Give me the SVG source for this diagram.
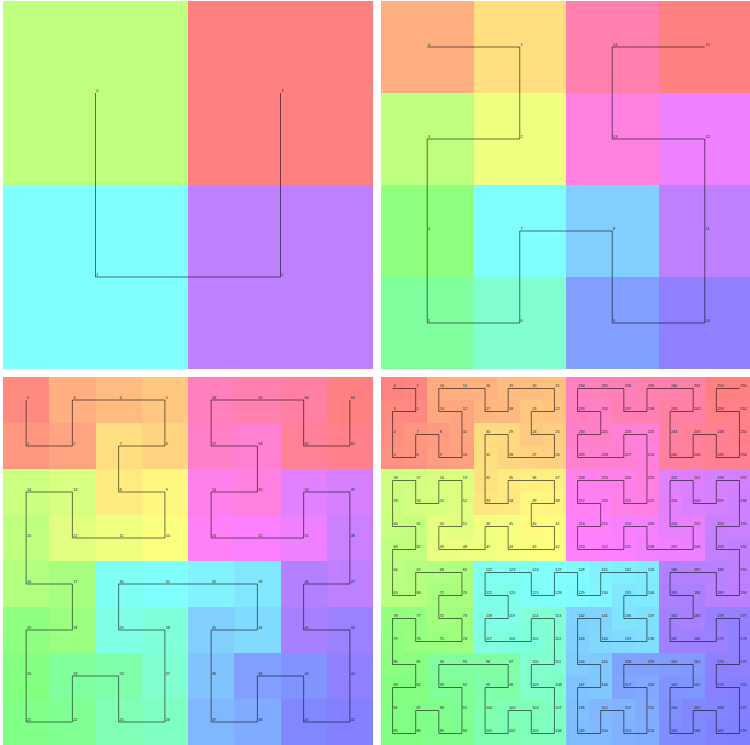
<svg xmlns="http://www.w3.org/2000/svg" width="750" height="745" viewBox="0 0 750 745">
<style>
.cells rect{fill:hsl(calc(var(--k) * var(--s)),100%,75%)}
.curve{fill:none;stroke:#000;stroke-opacity:.55;stroke-width:1}
.lbl text{font-family:"Liberation Sans",Arial,sans-serif;font-size:3.8px;fill:#222}
</style>
<rect width="750" height="745" fill="#fff"/>

<g id="order1">
<g class="cells" style="--s:90" transform="translate(3,1) scale(185,184)" shape-rendering="crispEdges">
<rect x="0" y="0" width="1" height="1" style="--k:1"/>
<rect x="0" y="1" width="1" height="1" style="--k:2"/>
<rect x="1" y="1" width="1" height="1" style="--k:3"/>
<rect x="1" y="0" width="1" height="1" style="--k:4"/>
</g>
<g id="order1-connectors"><polyline class="curve" vector-effect="non-scaling-stroke" transform="translate(95.5,93) scale(185,184)" points="0,0 0,1 1,1 1,0"/></g>
<g class="lbl" transform="translate(96.3,91.5)">
<text x="0" y="0">0</text><text x="0" y="184">1</text><text x="185" y="184">2</text><text x="185" y="0">3</text>
</g>
</g>

<g id="order2">
<g class="cells" style="--s:22.5" transform="translate(381,1) scale(92.5,92)" shape-rendering="crispEdges">
<rect x="0" y="0" width="1" height="1" style="--k:1"/>
<rect x="1" y="0" width="1" height="1" style="--k:2"/>
<rect x="1" y="1" width="1" height="1" style="--k:3"/>
<rect x="0" y="1" width="1" height="1" style="--k:4"/>
<rect x="0" y="2" width="1" height="1" style="--k:5"/>
<rect x="0" y="3" width="1" height="1" style="--k:6"/>
<rect x="1" y="3" width="1" height="1" style="--k:7"/>
<rect x="1" y="2" width="1" height="1" style="--k:8"/>
<rect x="2" y="2" width="1" height="1" style="--k:9"/>
<rect x="2" y="3" width="1" height="1" style="--k:10"/>
<rect x="3" y="3" width="1" height="1" style="--k:11"/>
<rect x="3" y="2" width="1" height="1" style="--k:12"/>
<rect x="3" y="1" width="1" height="1" style="--k:13"/>
<rect x="2" y="1" width="1" height="1" style="--k:14"/>
<rect x="2" y="0" width="1" height="1" style="--k:15"/>
<rect x="3" y="0" width="1" height="1" style="--k:16"/>
</g>
<g id="order2-connectors"><polyline class="curve" vector-effect="non-scaling-stroke" transform="translate(427.25,47) scale(92.5,92)" points="0,0 1,0 1,1 0,1 0,2 0,3 1,3 1,2 2,2 2,3 3,3 3,2 3,1 2,1 2,0 3,0"/></g>
<g class="lbl" transform="translate(428.05,45.5)">
<text x="0" y="0">0</text><text x="92.5" y="0">1</text><text x="92.5" y="92">2</text><text x="0" y="92">3</text>
<text x="0" y="184">4</text><text x="0" y="276">5</text><text x="92.5" y="276">6</text><text x="92.5" y="184">7</text>
<text x="185" y="184">8</text><text x="185" y="276">9</text><text x="277.5" y="276">10</text><text x="277.5" y="184">11</text>
<text x="277.5" y="92">12</text><text x="185" y="92">13</text><text x="185" y="0">14</text><text x="277.5" y="0">15</text>
</g>
</g>

<g id="order3">
<g class="cells" style="--s:5.625" transform="translate(3,377) scale(46.25,46)" shape-rendering="crispEdges">
<rect x="0" y="0" width="1" height="1" style="--k:1"/>
<rect x="0" y="1" width="1" height="1" style="--k:2"/>
<rect x="1" y="1" width="1" height="1" style="--k:3"/>
<rect x="1" y="0" width="1" height="1" style="--k:4"/>
<rect x="2" y="0" width="1" height="1" style="--k:5"/>
<rect x="3" y="0" width="1" height="1" style="--k:6"/>
<rect x="3" y="1" width="1" height="1" style="--k:7"/>
<rect x="2" y="1" width="1" height="1" style="--k:8"/>
<rect x="2" y="2" width="1" height="1" style="--k:9"/>
<rect x="3" y="2" width="1" height="1" style="--k:10"/>
<rect x="3" y="3" width="1" height="1" style="--k:11"/>
<rect x="2" y="3" width="1" height="1" style="--k:12"/>
<rect x="1" y="3" width="1" height="1" style="--k:13"/>
<rect x="1" y="2" width="1" height="1" style="--k:14"/>
<rect x="0" y="2" width="1" height="1" style="--k:15"/>
<rect x="0" y="3" width="1" height="1" style="--k:16"/>
<rect x="0" y="4" width="1" height="1" style="--k:17"/>
<rect x="1" y="4" width="1" height="1" style="--k:18"/>
<rect x="1" y="5" width="1" height="1" style="--k:19"/>
<rect x="0" y="5" width="1" height="1" style="--k:20"/>
<rect x="0" y="6" width="1" height="1" style="--k:21"/>
<rect x="0" y="7" width="1" height="1" style="--k:22"/>
<rect x="1" y="7" width="1" height="1" style="--k:23"/>
<rect x="1" y="6" width="1" height="1" style="--k:24"/>
<rect x="2" y="6" width="1" height="1" style="--k:25"/>
<rect x="2" y="7" width="1" height="1" style="--k:26"/>
<rect x="3" y="7" width="1" height="1" style="--k:27"/>
<rect x="3" y="6" width="1" height="1" style="--k:28"/>
<rect x="3" y="5" width="1" height="1" style="--k:29"/>
<rect x="2" y="5" width="1" height="1" style="--k:30"/>
<rect x="2" y="4" width="1" height="1" style="--k:31"/>
<rect x="3" y="4" width="1" height="1" style="--k:32"/>
<rect x="4" y="4" width="1" height="1" style="--k:33"/>
<rect x="5" y="4" width="1" height="1" style="--k:34"/>
<rect x="5" y="5" width="1" height="1" style="--k:35"/>
<rect x="4" y="5" width="1" height="1" style="--k:36"/>
<rect x="4" y="6" width="1" height="1" style="--k:37"/>
<rect x="4" y="7" width="1" height="1" style="--k:38"/>
<rect x="5" y="7" width="1" height="1" style="--k:39"/>
<rect x="5" y="6" width="1" height="1" style="--k:40"/>
<rect x="6" y="6" width="1" height="1" style="--k:41"/>
<rect x="6" y="7" width="1" height="1" style="--k:42"/>
<rect x="7" y="7" width="1" height="1" style="--k:43"/>
<rect x="7" y="6" width="1" height="1" style="--k:44"/>
<rect x="7" y="5" width="1" height="1" style="--k:45"/>
<rect x="6" y="5" width="1" height="1" style="--k:46"/>
<rect x="6" y="4" width="1" height="1" style="--k:47"/>
<rect x="7" y="4" width="1" height="1" style="--k:48"/>
<rect x="7" y="3" width="1" height="1" style="--k:49"/>
<rect x="7" y="2" width="1" height="1" style="--k:50"/>
<rect x="6" y="2" width="1" height="1" style="--k:51"/>
<rect x="6" y="3" width="1" height="1" style="--k:52"/>
<rect x="5" y="3" width="1" height="1" style="--k:53"/>
<rect x="4" y="3" width="1" height="1" style="--k:54"/>
<rect x="4" y="2" width="1" height="1" style="--k:55"/>
<rect x="5" y="2" width="1" height="1" style="--k:56"/>
<rect x="5" y="1" width="1" height="1" style="--k:57"/>
<rect x="4" y="1" width="1" height="1" style="--k:58"/>
<rect x="4" y="0" width="1" height="1" style="--k:59"/>
<rect x="5" y="0" width="1" height="1" style="--k:60"/>
<rect x="6" y="0" width="1" height="1" style="--k:61"/>
<rect x="6" y="1" width="1" height="1" style="--k:62"/>
<rect x="7" y="1" width="1" height="1" style="--k:63"/>
<rect x="7" y="0" width="1" height="1" style="--k:64"/>
</g>
<g id="order3-connectors"><polyline class="curve" vector-effect="non-scaling-stroke" transform="translate(26.125,400) scale(46.25,46)" points="0,0 0,1 1,1 1,0 2,0 3,0 3,1 2,1 2,2 3,2 3,3 2,3 1,3 1,2 0,2 0,3 0,4 1,4 1,5 0,5 0,6 0,7 1,7 1,6 2,6 2,7 3,7 3,6 3,5 2,5 2,4 3,4 4,4 5,4 5,5 4,5 4,6 4,7 5,7 5,6 6,6 6,7 7,7 7,6 7,5 6,5 6,4 7,4 7,3 7,2 6,2 6,3 5,3 4,3 4,2 5,2 5,1 4,1 4,0 5,0 6,0 6,1 7,1 7,0"/></g>
<g class="lbl" transform="translate(26.9,398.5)">
<text x="0" y="0">0</text><text x="0" y="46">1</text><text x="46.3" y="46">2</text><text x="46.3" y="0">3</text>
<text x="92.5" y="0">4</text><text x="138.8" y="0">5</text><text x="138.8" y="46">6</text><text x="92.5" y="46">7</text>
<text x="92.5" y="92">8</text><text x="138.8" y="92">9</text><text x="138.8" y="138">10</text><text x="92.5" y="138">11</text>
<text x="46.3" y="138">12</text><text x="46.3" y="92">13</text><text x="0" y="92">14</text><text x="0" y="138">15</text>
<text x="0" y="184">16</text><text x="46.3" y="184">17</text><text x="46.3" y="230">18</text><text x="0" y="230">19</text>
<text x="0" y="276">20</text><text x="0" y="322">21</text><text x="46.3" y="322">22</text><text x="46.3" y="276">23</text>
<text x="92.5" y="276">24</text><text x="92.5" y="322">25</text><text x="138.8" y="322">26</text><text x="138.8" y="276">27</text>
<text x="138.8" y="230">28</text><text x="92.5" y="230">29</text><text x="92.5" y="184">30</text><text x="138.8" y="184">31</text>
<text x="185" y="184">32</text><text x="231.3" y="184">33</text><text x="231.3" y="230">34</text><text x="185" y="230">35</text>
<text x="185" y="276">36</text><text x="185" y="322">37</text><text x="231.3" y="322">38</text><text x="231.3" y="276">39</text>
<text x="277.5" y="276">40</text><text x="277.5" y="322">41</text><text x="323.8" y="322">42</text><text x="323.8" y="276">43</text>
<text x="323.8" y="230">44</text><text x="277.5" y="230">45</text><text x="277.5" y="184">46</text><text x="323.8" y="184">47</text>
<text x="323.8" y="138">48</text><text x="323.8" y="92">49</text><text x="277.5" y="92">50</text><text x="277.5" y="138">51</text>
<text x="231.3" y="138">52</text><text x="185" y="138">53</text><text x="185" y="92">54</text><text x="231.3" y="92">55</text>
<text x="231.3" y="46">56</text><text x="185" y="46">57</text><text x="185" y="0">58</text><text x="231.3" y="0">59</text>
<text x="277.5" y="0">60</text><text x="277.5" y="46">61</text><text x="323.8" y="46">62</text><text x="323.8" y="0">63</text>
</g>
</g>

<g id="order4">
<g class="cells" style="--s:1.40625" transform="translate(381,377) scale(23.125,23)" shape-rendering="crispEdges">
<rect x="0" y="0" width="1" height="1" style="--k:1"/>
<rect x="1" y="0" width="1" height="1" style="--k:2"/>
<rect x="1" y="1" width="1" height="1" style="--k:3"/>
<rect x="0" y="1" width="1" height="1" style="--k:4"/>
<rect x="0" y="2" width="1" height="1" style="--k:5"/>
<rect x="0" y="3" width="1" height="1" style="--k:6"/>
<rect x="1" y="3" width="1" height="1" style="--k:7"/>
<rect x="1" y="2" width="1" height="1" style="--k:8"/>
<rect x="2" y="2" width="1" height="1" style="--k:9"/>
<rect x="2" y="3" width="1" height="1" style="--k:10"/>
<rect x="3" y="3" width="1" height="1" style="--k:11"/>
<rect x="3" y="2" width="1" height="1" style="--k:12"/>
<rect x="3" y="1" width="1" height="1" style="--k:13"/>
<rect x="2" y="1" width="1" height="1" style="--k:14"/>
<rect x="2" y="0" width="1" height="1" style="--k:15"/>
<rect x="3" y="0" width="1" height="1" style="--k:16"/>
<rect x="4" y="0" width="1" height="1" style="--k:17"/>
<rect x="4" y="1" width="1" height="1" style="--k:18"/>
<rect x="5" y="1" width="1" height="1" style="--k:19"/>
<rect x="5" y="0" width="1" height="1" style="--k:20"/>
<rect x="6" y="0" width="1" height="1" style="--k:21"/>
<rect x="7" y="0" width="1" height="1" style="--k:22"/>
<rect x="7" y="1" width="1" height="1" style="--k:23"/>
<rect x="6" y="1" width="1" height="1" style="--k:24"/>
<rect x="6" y="2" width="1" height="1" style="--k:25"/>
<rect x="7" y="2" width="1" height="1" style="--k:26"/>
<rect x="7" y="3" width="1" height="1" style="--k:27"/>
<rect x="6" y="3" width="1" height="1" style="--k:28"/>
<rect x="5" y="3" width="1" height="1" style="--k:29"/>
<rect x="5" y="2" width="1" height="1" style="--k:30"/>
<rect x="4" y="2" width="1" height="1" style="--k:31"/>
<rect x="4" y="3" width="1" height="1" style="--k:32"/>
<rect x="4" y="4" width="1" height="1" style="--k:33"/>
<rect x="4" y="5" width="1" height="1" style="--k:34"/>
<rect x="5" y="5" width="1" height="1" style="--k:35"/>
<rect x="5" y="4" width="1" height="1" style="--k:36"/>
<rect x="6" y="4" width="1" height="1" style="--k:37"/>
<rect x="7" y="4" width="1" height="1" style="--k:38"/>
<rect x="7" y="5" width="1" height="1" style="--k:39"/>
<rect x="6" y="5" width="1" height="1" style="--k:40"/>
<rect x="6" y="6" width="1" height="1" style="--k:41"/>
<rect x="7" y="6" width="1" height="1" style="--k:42"/>
<rect x="7" y="7" width="1" height="1" style="--k:43"/>
<rect x="6" y="7" width="1" height="1" style="--k:44"/>
<rect x="5" y="7" width="1" height="1" style="--k:45"/>
<rect x="5" y="6" width="1" height="1" style="--k:46"/>
<rect x="4" y="6" width="1" height="1" style="--k:47"/>
<rect x="4" y="7" width="1" height="1" style="--k:48"/>
<rect x="3" y="7" width="1" height="1" style="--k:49"/>
<rect x="2" y="7" width="1" height="1" style="--k:50"/>
<rect x="2" y="6" width="1" height="1" style="--k:51"/>
<rect x="3" y="6" width="1" height="1" style="--k:52"/>
<rect x="3" y="5" width="1" height="1" style="--k:53"/>
<rect x="3" y="4" width="1" height="1" style="--k:54"/>
<rect x="2" y="4" width="1" height="1" style="--k:55"/>
<rect x="2" y="5" width="1" height="1" style="--k:56"/>
<rect x="1" y="5" width="1" height="1" style="--k:57"/>
<rect x="1" y="4" width="1" height="1" style="--k:58"/>
<rect x="0" y="4" width="1" height="1" style="--k:59"/>
<rect x="0" y="5" width="1" height="1" style="--k:60"/>
<rect x="0" y="6" width="1" height="1" style="--k:61"/>
<rect x="1" y="6" width="1" height="1" style="--k:62"/>
<rect x="1" y="7" width="1" height="1" style="--k:63"/>
<rect x="0" y="7" width="1" height="1" style="--k:64"/>
<rect x="0" y="8" width="1" height="1" style="--k:65"/>
<rect x="0" y="9" width="1" height="1" style="--k:66"/>
<rect x="1" y="9" width="1" height="1" style="--k:67"/>
<rect x="1" y="8" width="1" height="1" style="--k:68"/>
<rect x="2" y="8" width="1" height="1" style="--k:69"/>
<rect x="3" y="8" width="1" height="1" style="--k:70"/>
<rect x="3" y="9" width="1" height="1" style="--k:71"/>
<rect x="2" y="9" width="1" height="1" style="--k:72"/>
<rect x="2" y="10" width="1" height="1" style="--k:73"/>
<rect x="3" y="10" width="1" height="1" style="--k:74"/>
<rect x="3" y="11" width="1" height="1" style="--k:75"/>
<rect x="2" y="11" width="1" height="1" style="--k:76"/>
<rect x="1" y="11" width="1" height="1" style="--k:77"/>
<rect x="1" y="10" width="1" height="1" style="--k:78"/>
<rect x="0" y="10" width="1" height="1" style="--k:79"/>
<rect x="0" y="11" width="1" height="1" style="--k:80"/>
<rect x="0" y="12" width="1" height="1" style="--k:81"/>
<rect x="1" y="12" width="1" height="1" style="--k:82"/>
<rect x="1" y="13" width="1" height="1" style="--k:83"/>
<rect x="0" y="13" width="1" height="1" style="--k:84"/>
<rect x="0" y="14" width="1" height="1" style="--k:85"/>
<rect x="0" y="15" width="1" height="1" style="--k:86"/>
<rect x="1" y="15" width="1" height="1" style="--k:87"/>
<rect x="1" y="14" width="1" height="1" style="--k:88"/>
<rect x="2" y="14" width="1" height="1" style="--k:89"/>
<rect x="2" y="15" width="1" height="1" style="--k:90"/>
<rect x="3" y="15" width="1" height="1" style="--k:91"/>
<rect x="3" y="14" width="1" height="1" style="--k:92"/>
<rect x="3" y="13" width="1" height="1" style="--k:93"/>
<rect x="2" y="13" width="1" height="1" style="--k:94"/>
<rect x="2" y="12" width="1" height="1" style="--k:95"/>
<rect x="3" y="12" width="1" height="1" style="--k:96"/>
<rect x="4" y="12" width="1" height="1" style="--k:97"/>
<rect x="5" y="12" width="1" height="1" style="--k:98"/>
<rect x="5" y="13" width="1" height="1" style="--k:99"/>
<rect x="4" y="13" width="1" height="1" style="--k:100"/>
<rect x="4" y="14" width="1" height="1" style="--k:101"/>
<rect x="4" y="15" width="1" height="1" style="--k:102"/>
<rect x="5" y="15" width="1" height="1" style="--k:103"/>
<rect x="5" y="14" width="1" height="1" style="--k:104"/>
<rect x="6" y="14" width="1" height="1" style="--k:105"/>
<rect x="6" y="15" width="1" height="1" style="--k:106"/>
<rect x="7" y="15" width="1" height="1" style="--k:107"/>
<rect x="7" y="14" width="1" height="1" style="--k:108"/>
<rect x="7" y="13" width="1" height="1" style="--k:109"/>
<rect x="6" y="13" width="1" height="1" style="--k:110"/>
<rect x="6" y="12" width="1" height="1" style="--k:111"/>
<rect x="7" y="12" width="1" height="1" style="--k:112"/>
<rect x="7" y="11" width="1" height="1" style="--k:113"/>
<rect x="7" y="10" width="1" height="1" style="--k:114"/>
<rect x="6" y="10" width="1" height="1" style="--k:115"/>
<rect x="6" y="11" width="1" height="1" style="--k:116"/>
<rect x="5" y="11" width="1" height="1" style="--k:117"/>
<rect x="4" y="11" width="1" height="1" style="--k:118"/>
<rect x="4" y="10" width="1" height="1" style="--k:119"/>
<rect x="5" y="10" width="1" height="1" style="--k:120"/>
<rect x="5" y="9" width="1" height="1" style="--k:121"/>
<rect x="4" y="9" width="1" height="1" style="--k:122"/>
<rect x="4" y="8" width="1" height="1" style="--k:123"/>
<rect x="5" y="8" width="1" height="1" style="--k:124"/>
<rect x="6" y="8" width="1" height="1" style="--k:125"/>
<rect x="6" y="9" width="1" height="1" style="--k:126"/>
<rect x="7" y="9" width="1" height="1" style="--k:127"/>
<rect x="7" y="8" width="1" height="1" style="--k:128"/>
<rect x="8" y="8" width="1" height="1" style="--k:129"/>
<rect x="8" y="9" width="1" height="1" style="--k:130"/>
<rect x="9" y="9" width="1" height="1" style="--k:131"/>
<rect x="9" y="8" width="1" height="1" style="--k:132"/>
<rect x="10" y="8" width="1" height="1" style="--k:133"/>
<rect x="11" y="8" width="1" height="1" style="--k:134"/>
<rect x="11" y="9" width="1" height="1" style="--k:135"/>
<rect x="10" y="9" width="1" height="1" style="--k:136"/>
<rect x="10" y="10" width="1" height="1" style="--k:137"/>
<rect x="11" y="10" width="1" height="1" style="--k:138"/>
<rect x="11" y="11" width="1" height="1" style="--k:139"/>
<rect x="10" y="11" width="1" height="1" style="--k:140"/>
<rect x="9" y="11" width="1" height="1" style="--k:141"/>
<rect x="9" y="10" width="1" height="1" style="--k:142"/>
<rect x="8" y="10" width="1" height="1" style="--k:143"/>
<rect x="8" y="11" width="1" height="1" style="--k:144"/>
<rect x="8" y="12" width="1" height="1" style="--k:145"/>
<rect x="9" y="12" width="1" height="1" style="--k:146"/>
<rect x="9" y="13" width="1" height="1" style="--k:147"/>
<rect x="8" y="13" width="1" height="1" style="--k:148"/>
<rect x="8" y="14" width="1" height="1" style="--k:149"/>
<rect x="8" y="15" width="1" height="1" style="--k:150"/>
<rect x="9" y="15" width="1" height="1" style="--k:151"/>
<rect x="9" y="14" width="1" height="1" style="--k:152"/>
<rect x="10" y="14" width="1" height="1" style="--k:153"/>
<rect x="10" y="15" width="1" height="1" style="--k:154"/>
<rect x="11" y="15" width="1" height="1" style="--k:155"/>
<rect x="11" y="14" width="1" height="1" style="--k:156"/>
<rect x="11" y="13" width="1" height="1" style="--k:157"/>
<rect x="10" y="13" width="1" height="1" style="--k:158"/>
<rect x="10" y="12" width="1" height="1" style="--k:159"/>
<rect x="11" y="12" width="1" height="1" style="--k:160"/>
<rect x="12" y="12" width="1" height="1" style="--k:161"/>
<rect x="13" y="12" width="1" height="1" style="--k:162"/>
<rect x="13" y="13" width="1" height="1" style="--k:163"/>
<rect x="12" y="13" width="1" height="1" style="--k:164"/>
<rect x="12" y="14" width="1" height="1" style="--k:165"/>
<rect x="12" y="15" width="1" height="1" style="--k:166"/>
<rect x="13" y="15" width="1" height="1" style="--k:167"/>
<rect x="13" y="14" width="1" height="1" style="--k:168"/>
<rect x="14" y="14" width="1" height="1" style="--k:169"/>
<rect x="14" y="15" width="1" height="1" style="--k:170"/>
<rect x="15" y="15" width="1" height="1" style="--k:171"/>
<rect x="15" y="14" width="1" height="1" style="--k:172"/>
<rect x="15" y="13" width="1" height="1" style="--k:173"/>
<rect x="14" y="13" width="1" height="1" style="--k:174"/>
<rect x="14" y="12" width="1" height="1" style="--k:175"/>
<rect x="15" y="12" width="1" height="1" style="--k:176"/>
<rect x="15" y="11" width="1" height="1" style="--k:177"/>
<rect x="15" y="10" width="1" height="1" style="--k:178"/>
<rect x="14" y="10" width="1" height="1" style="--k:179"/>
<rect x="14" y="11" width="1" height="1" style="--k:180"/>
<rect x="13" y="11" width="1" height="1" style="--k:181"/>
<rect x="12" y="11" width="1" height="1" style="--k:182"/>
<rect x="12" y="10" width="1" height="1" style="--k:183"/>
<rect x="13" y="10" width="1" height="1" style="--k:184"/>
<rect x="13" y="9" width="1" height="1" style="--k:185"/>
<rect x="12" y="9" width="1" height="1" style="--k:186"/>
<rect x="12" y="8" width="1" height="1" style="--k:187"/>
<rect x="13" y="8" width="1" height="1" style="--k:188"/>
<rect x="14" y="8" width="1" height="1" style="--k:189"/>
<rect x="14" y="9" width="1" height="1" style="--k:190"/>
<rect x="15" y="9" width="1" height="1" style="--k:191"/>
<rect x="15" y="8" width="1" height="1" style="--k:192"/>
<rect x="15" y="7" width="1" height="1" style="--k:193"/>
<rect x="14" y="7" width="1" height="1" style="--k:194"/>
<rect x="14" y="6" width="1" height="1" style="--k:195"/>
<rect x="15" y="6" width="1" height="1" style="--k:196"/>
<rect x="15" y="5" width="1" height="1" style="--k:197"/>
<rect x="15" y="4" width="1" height="1" style="--k:198"/>
<rect x="14" y="4" width="1" height="1" style="--k:199"/>
<rect x="14" y="5" width="1" height="1" style="--k:200"/>
<rect x="13" y="5" width="1" height="1" style="--k:201"/>
<rect x="13" y="4" width="1" height="1" style="--k:202"/>
<rect x="12" y="4" width="1" height="1" style="--k:203"/>
<rect x="12" y="5" width="1" height="1" style="--k:204"/>
<rect x="12" y="6" width="1" height="1" style="--k:205"/>
<rect x="13" y="6" width="1" height="1" style="--k:206"/>
<rect x="13" y="7" width="1" height="1" style="--k:207"/>
<rect x="12" y="7" width="1" height="1" style="--k:208"/>
<rect x="11" y="7" width="1" height="1" style="--k:209"/>
<rect x="11" y="6" width="1" height="1" style="--k:210"/>
<rect x="10" y="6" width="1" height="1" style="--k:211"/>
<rect x="10" y="7" width="1" height="1" style="--k:212"/>
<rect x="9" y="7" width="1" height="1" style="--k:213"/>
<rect x="8" y="7" width="1" height="1" style="--k:214"/>
<rect x="8" y="6" width="1" height="1" style="--k:215"/>
<rect x="9" y="6" width="1" height="1" style="--k:216"/>
<rect x="9" y="5" width="1" height="1" style="--k:217"/>
<rect x="8" y="5" width="1" height="1" style="--k:218"/>
<rect x="8" y="4" width="1" height="1" style="--k:219"/>
<rect x="9" y="4" width="1" height="1" style="--k:220"/>
<rect x="10" y="4" width="1" height="1" style="--k:221"/>
<rect x="10" y="5" width="1" height="1" style="--k:222"/>
<rect x="11" y="5" width="1" height="1" style="--k:223"/>
<rect x="11" y="4" width="1" height="1" style="--k:224"/>
<rect x="11" y="3" width="1" height="1" style="--k:225"/>
<rect x="11" y="2" width="1" height="1" style="--k:226"/>
<rect x="10" y="2" width="1" height="1" style="--k:227"/>
<rect x="10" y="3" width="1" height="1" style="--k:228"/>
<rect x="9" y="3" width="1" height="1" style="--k:229"/>
<rect x="8" y="3" width="1" height="1" style="--k:230"/>
<rect x="8" y="2" width="1" height="1" style="--k:231"/>
<rect x="9" y="2" width="1" height="1" style="--k:232"/>
<rect x="9" y="1" width="1" height="1" style="--k:233"/>
<rect x="8" y="1" width="1" height="1" style="--k:234"/>
<rect x="8" y="0" width="1" height="1" style="--k:235"/>
<rect x="9" y="0" width="1" height="1" style="--k:236"/>
<rect x="10" y="0" width="1" height="1" style="--k:237"/>
<rect x="10" y="1" width="1" height="1" style="--k:238"/>
<rect x="11" y="1" width="1" height="1" style="--k:239"/>
<rect x="11" y="0" width="1" height="1" style="--k:240"/>
<rect x="12" y="0" width="1" height="1" style="--k:241"/>
<rect x="13" y="0" width="1" height="1" style="--k:242"/>
<rect x="13" y="1" width="1" height="1" style="--k:243"/>
<rect x="12" y="1" width="1" height="1" style="--k:244"/>
<rect x="12" y="2" width="1" height="1" style="--k:245"/>
<rect x="12" y="3" width="1" height="1" style="--k:246"/>
<rect x="13" y="3" width="1" height="1" style="--k:247"/>
<rect x="13" y="2" width="1" height="1" style="--k:248"/>
<rect x="14" y="2" width="1" height="1" style="--k:249"/>
<rect x="14" y="3" width="1" height="1" style="--k:250"/>
<rect x="15" y="3" width="1" height="1" style="--k:251"/>
<rect x="15" y="2" width="1" height="1" style="--k:252"/>
<rect x="15" y="1" width="1" height="1" style="--k:253"/>
<rect x="14" y="1" width="1" height="1" style="--k:254"/>
<rect x="14" y="0" width="1" height="1" style="--k:255"/>
<rect x="15" y="0" width="1" height="1" style="--k:256"/>
</g>
<g id="order4-connectors"><polyline class="curve" vector-effect="non-scaling-stroke" transform="translate(392.5625,388.5) scale(23.125,23)" points="0,0 1,0 1,1 0,1 0,2 0,3 1,3 1,2 2,2 2,3 3,3 3,2 3,1 2,1 2,0 3,0 4,0 4,1 5,1 5,0 6,0 7,0 7,1 6,1 6,2 7,2 7,3 6,3 5,3 5,2 4,2 4,3 4,4 4,5 5,5 5,4 6,4 7,4 7,5 6,5 6,6 7,6 7,7 6,7 5,7 5,6 4,6 4,7 3,7 2,7 2,6 3,6 3,5 3,4 2,4 2,5 1,5 1,4 0,4 0,5 0,6 1,6 1,7 0,7 0,8 0,9 1,9 1,8 2,8 3,8 3,9 2,9 2,10 3,10 3,11 2,11 1,11 1,10 0,10 0,11 0,12 1,12 1,13 0,13 0,14 0,15 1,15 1,14 2,14 2,15 3,15 3,14 3,13 2,13 2,12 3,12 4,12 5,12 5,13 4,13 4,14 4,15 5,15 5,14 6,14 6,15 7,15 7,14 7,13 6,13 6,12 7,12 7,11 7,10 6,10 6,11 5,11 4,11 4,10 5,10 5,9 4,9 4,8 5,8 6,8 6,9 7,9 7,8 8,8 8,9 9,9 9,8 10,8 11,8 11,9 10,9 10,10 11,10 11,11 10,11 9,11 9,10 8,10 8,11 8,12 9,12 9,13 8,13 8,14 8,15 9,15 9,14 10,14 10,15 11,15 11,14 11,13 10,13 10,12 11,12 12,12 13,12 13,13 12,13 12,14 12,15 13,15 13,14 14,14 14,15 15,15 15,14 15,13 14,13 14,12 15,12 15,11 15,10 14,10 14,11 13,11 12,11 12,10 13,10 13,9 12,9 12,8 13,8 14,8 14,9 15,9 15,8 15,7 14,7 14,6 15,6 15,5 15,4 14,4 14,5 13,5 13,4 12,4 12,5 12,6 13,6 13,7 12,7 11,7 11,6 10,6 10,7 9,7 8,7 8,6 9,6 9,5 8,5 8,4 9,4 10,4 10,5 11,5 11,4 11,3 11,2 10,2 10,3 9,3 8,3 8,2 9,2 9,1 8,1 8,0 9,0 10,0 10,1 11,1 11,0 12,0 13,0 13,1 12,1 12,2 12,3 13,3 13,2 14,2 14,3 15,3 15,2 15,1 14,1 14,0 15,0"/></g>
<g class="lbl" transform="translate(393.4,387)">
<text x="0" y="0">0</text><text x="23.1" y="0">1</text><text x="23.1" y="23">2</text><text x="0" y="23">3</text>
<text x="0" y="46">4</text><text x="0" y="69">5</text><text x="23.1" y="69">6</text><text x="23.1" y="46">7</text>
<text x="46.3" y="46">8</text><text x="46.3" y="69">9</text><text x="69.4" y="69">10</text><text x="69.4" y="46">11</text>
<text x="69.4" y="23">12</text><text x="46.3" y="23">13</text><text x="46.3" y="0">14</text><text x="69.4" y="0">15</text>
<text x="92.5" y="0">16</text><text x="92.5" y="23">17</text><text x="115.6" y="23">18</text><text x="115.6" y="0">19</text>
<text x="138.8" y="0">20</text><text x="161.9" y="0">21</text><text x="161.9" y="23">22</text><text x="138.8" y="23">23</text>
<text x="138.8" y="46">24</text><text x="161.9" y="46">25</text><text x="161.9" y="69">26</text><text x="138.8" y="69">27</text>
<text x="115.6" y="69">28</text><text x="115.6" y="46">29</text><text x="92.5" y="46">30</text><text x="92.5" y="69">31</text>
<text x="92.5" y="92">32</text><text x="92.5" y="115">33</text><text x="115.6" y="115">34</text><text x="115.6" y="92">35</text>
<text x="138.8" y="92">36</text><text x="161.9" y="92">37</text><text x="161.9" y="115">38</text><text x="138.8" y="115">39</text>
<text x="138.8" y="138">40</text><text x="161.9" y="138">41</text><text x="161.9" y="161">42</text><text x="138.8" y="161">43</text>
<text x="115.6" y="161">44</text><text x="115.6" y="138">45</text><text x="92.5" y="138">46</text><text x="92.5" y="161">47</text>
<text x="69.4" y="161">48</text><text x="46.3" y="161">49</text><text x="46.3" y="138">50</text><text x="69.4" y="138">51</text>
<text x="69.4" y="115">52</text><text x="69.4" y="92">53</text><text x="46.3" y="92">54</text><text x="46.3" y="115">55</text>
<text x="23.1" y="115">56</text><text x="23.1" y="92">57</text><text x="0" y="92">58</text><text x="0" y="115">59</text>
<text x="0" y="138">60</text><text x="23.1" y="138">61</text><text x="23.1" y="161">62</text><text x="0" y="161">63</text>
<text x="0" y="184">64</text><text x="0" y="207">65</text><text x="23.1" y="207">66</text><text x="23.1" y="184">67</text>
<text x="46.3" y="184">68</text><text x="69.4" y="184">69</text><text x="69.4" y="207">70</text><text x="46.3" y="207">71</text>
<text x="46.3" y="230">72</text><text x="69.4" y="230">73</text><text x="69.4" y="253">74</text><text x="46.3" y="253">75</text>
<text x="23.1" y="253">76</text><text x="23.1" y="230">77</text><text x="0" y="230">78</text><text x="0" y="253">79</text>
<text x="0" y="276">80</text><text x="23.1" y="276">81</text><text x="23.1" y="299">82</text><text x="0" y="299">83</text>
<text x="0" y="322">84</text><text x="0" y="345">85</text><text x="23.1" y="345">86</text><text x="23.1" y="322">87</text>
<text x="46.3" y="322">88</text><text x="46.3" y="345">89</text><text x="69.4" y="345">90</text><text x="69.4" y="322">91</text>
<text x="69.4" y="299">92</text><text x="46.3" y="299">93</text><text x="46.3" y="276">94</text><text x="69.4" y="276">95</text>
<text x="92.5" y="276">96</text><text x="115.6" y="276">97</text><text x="115.6" y="299">98</text><text x="92.5" y="299">99</text>
<text x="92.5" y="322">100</text><text x="92.5" y="345">101</text><text x="115.6" y="345">102</text><text x="115.6" y="322">103</text>
<text x="138.8" y="322">104</text><text x="138.8" y="345">105</text><text x="161.9" y="345">106</text><text x="161.9" y="322">107</text>
<text x="161.9" y="299">108</text><text x="138.8" y="299">109</text><text x="138.8" y="276">110</text><text x="161.9" y="276">111</text>
<text x="161.9" y="253">112</text><text x="161.9" y="230">113</text><text x="138.8" y="230">114</text><text x="138.8" y="253">115</text>
<text x="115.6" y="253">116</text><text x="92.5" y="253">117</text><text x="92.5" y="230">118</text><text x="115.6" y="230">119</text>
<text x="115.6" y="207">120</text><text x="92.5" y="207">121</text><text x="92.5" y="184">122</text><text x="115.6" y="184">123</text>
<text x="138.8" y="184">124</text><text x="138.8" y="207">125</text><text x="161.9" y="207">126</text><text x="161.9" y="184">127</text>
<text x="185" y="184">128</text><text x="185" y="207">129</text><text x="208.1" y="207">130</text><text x="208.1" y="184">131</text>
<text x="231.3" y="184">132</text><text x="254.4" y="184">133</text><text x="254.4" y="207">134</text><text x="231.3" y="207">135</text>
<text x="231.3" y="230">136</text><text x="254.4" y="230">137</text><text x="254.4" y="253">138</text><text x="231.3" y="253">139</text>
<text x="208.1" y="253">140</text><text x="208.1" y="230">141</text><text x="185" y="230">142</text><text x="185" y="253">143</text>
<text x="185" y="276">144</text><text x="208.1" y="276">145</text><text x="208.1" y="299">146</text><text x="185" y="299">147</text>
<text x="185" y="322">148</text><text x="185" y="345">149</text><text x="208.1" y="345">150</text><text x="208.1" y="322">151</text>
<text x="231.3" y="322">152</text><text x="231.3" y="345">153</text><text x="254.4" y="345">154</text><text x="254.4" y="322">155</text>
<text x="254.4" y="299">156</text><text x="231.3" y="299">157</text><text x="231.3" y="276">158</text><text x="254.4" y="276">159</text>
<text x="277.5" y="276">160</text><text x="300.6" y="276">161</text><text x="300.6" y="299">162</text><text x="277.5" y="299">163</text>
<text x="277.5" y="322">164</text><text x="277.5" y="345">165</text><text x="300.6" y="345">166</text><text x="300.6" y="322">167</text>
<text x="323.8" y="322">168</text><text x="323.8" y="345">169</text><text x="346.9" y="345">170</text><text x="346.9" y="322">171</text>
<text x="346.9" y="299">172</text><text x="323.8" y="299">173</text><text x="323.8" y="276">174</text><text x="346.9" y="276">175</text>
<text x="346.9" y="253">176</text><text x="346.9" y="230">177</text><text x="323.8" y="230">178</text><text x="323.8" y="253">179</text>
<text x="300.6" y="253">180</text><text x="277.5" y="253">181</text><text x="277.5" y="230">182</text><text x="300.6" y="230">183</text>
<text x="300.6" y="207">184</text><text x="277.5" y="207">185</text><text x="277.5" y="184">186</text><text x="300.6" y="184">187</text>
<text x="323.8" y="184">188</text><text x="323.8" y="207">189</text><text x="346.9" y="207">190</text><text x="346.9" y="184">191</text>
<text x="346.9" y="161">192</text><text x="323.8" y="161">193</text><text x="323.8" y="138">194</text><text x="346.9" y="138">195</text>
<text x="346.9" y="115">196</text><text x="346.9" y="92">197</text><text x="323.8" y="92">198</text><text x="323.8" y="115">199</text>
<text x="300.6" y="115">200</text><text x="300.6" y="92">201</text><text x="277.5" y="92">202</text><text x="277.5" y="115">203</text>
<text x="277.5" y="138">204</text><text x="300.6" y="138">205</text><text x="300.6" y="161">206</text><text x="277.5" y="161">207</text>
<text x="254.4" y="161">208</text><text x="254.4" y="138">209</text><text x="231.3" y="138">210</text><text x="231.3" y="161">211</text>
<text x="208.1" y="161">212</text><text x="185" y="161">213</text><text x="185" y="138">214</text><text x="208.1" y="138">215</text>
<text x="208.1" y="115">216</text><text x="185" y="115">217</text><text x="185" y="92">218</text><text x="208.1" y="92">219</text>
<text x="231.3" y="92">220</text><text x="231.3" y="115">221</text><text x="254.4" y="115">222</text><text x="254.4" y="92">223</text>
<text x="254.4" y="69">224</text><text x="254.4" y="46">225</text><text x="231.3" y="46">226</text><text x="231.3" y="69">227</text>
<text x="208.1" y="69">228</text><text x="185" y="69">229</text><text x="185" y="46">230</text><text x="208.1" y="46">231</text>
<text x="208.1" y="23">232</text><text x="185" y="23">233</text><text x="185" y="0">234</text><text x="208.1" y="0">235</text>
<text x="231.3" y="0">236</text><text x="231.3" y="23">237</text><text x="254.4" y="23">238</text><text x="254.4" y="0">239</text>
<text x="277.5" y="0">240</text><text x="300.6" y="0">241</text><text x="300.6" y="23">242</text><text x="277.5" y="23">243</text>
<text x="277.5" y="46">244</text><text x="277.5" y="69">245</text><text x="300.6" y="69">246</text><text x="300.6" y="46">247</text>
<text x="323.8" y="46">248</text><text x="323.8" y="69">249</text><text x="346.9" y="69">250</text><text x="346.9" y="46">251</text>
<text x="346.9" y="23">252</text><text x="323.8" y="23">253</text><text x="323.8" y="0">254</text><text x="346.9" y="0">255</text>
</g>
</g>
</svg>
